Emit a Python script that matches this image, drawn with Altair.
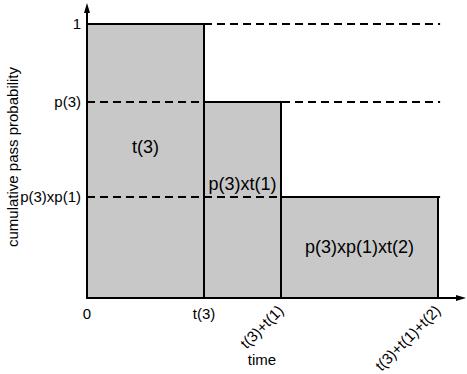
import altair as alt
import pandas as pd

# ---- data ----
durations = [1.17, 0.77, 1.57]            # t(3), t(1), t(2)
levels = [1.0, 0.715, 0.369]              # 1, p(3), p(3)xp(1)
rect_labels = ["t(3)", "p(3)xt(1)", "p(3)xp(1)xt(2)"]
rect_label_y = [0.547, 0.412, 0.182]
y_tick_labels = ["1", "p(3)", "p(3)xp(1)"]
x_tick_labels = ["0", "t(3)", "t(3)+t(1)", "t(3)+t(1)+t(2)"]

W, H = 378, 295
X_MAX = 3.78
Y_MAX = 295 / 274
FONT = "Liberation Sans"

starts = [0.0, durations[0], durations[0] + durations[1]]
ends = [s + d for s, d in zip(starts, durations)]
total = ends[-1]

rects = pd.DataFrame({"x": starts, "x2": ends, "y": [0, 0, 0], "y2": levels,
                      "label": rect_labels, "ly": rect_label_y,
                      "lx": [(a + b) / 2 for a, b in zip(starts, ends)]})
dash_df = pd.DataFrame({"x": [durations[0], 0.0, 0.0], "x2": [total * 1.006] * 3, "y": levels})
ytick_df = pd.DataFrame({"y": levels, "label": y_tick_labels})
xpos = [0.0] + ends
xtick_df = pd.DataFrame({"x": xpos, "label": x_tick_labels})

xs = alt.Scale(domain=[0, X_MAX], nice=False, zero=False)
ys = alt.Scale(domain=[0, Y_MAX], nice=False, zero=False)

base = alt.Chart(rects)

rect_layer = base.mark_rect(fill="#c8c8c8", stroke="black", strokeWidth=2).encode(
    x=alt.X("x:Q", scale=xs, axis=None),
    x2="x2:Q",
    y=alt.Y("y:Q", scale=ys, axis=None),
    y2="y2:Q",
)

rect_text = base.mark_text(font=FONT, fontSize=18, color="black").encode(
    x=alt.X("lx:Q", scale=xs, axis=None),
    y=alt.Y("ly:Q", scale=ys, axis=None),
    text="label:N",
)

dashes = alt.Chart(dash_df).mark_rule(color="black", strokeWidth=2, strokeDash=[8, 5]).encode(
    x=alt.X("x:Q", scale=xs, axis=None),
    x2="x2:Q",
    y=alt.Y("y:Q", scale=ys, axis=None),
)

y_axis = alt.Chart(rects).mark_rule(color="black", strokeWidth=2).encode(
    x=alt.value(0), y=alt.value(H), y2=alt.value(4)
)
x_axis = alt.Chart(rects).mark_rule(color="black", strokeWidth=2).encode(
    x=alt.value(0), x2=alt.value(372), y=alt.value(H)
)
y_arrow = alt.Chart(pd.DataFrame({"a": [0]})).mark_point(
    shape="M0,-1L0.6,1L-0.6,1Z", filled=True, color="black", opacity=1, size=100
).encode(x=alt.value(0), y=alt.value(5))
x_arrow = alt.Chart(pd.DataFrame({"a": [0]})).mark_point(
    shape="M1,0L-1,-0.6L-1,0.6Z", filled=True, color="black", opacity=1, size=100
).encode(x=alt.value(374), y=alt.value(H))

ytick_text = alt.Chart(ytick_df).mark_text(
    font=FONT, fontSize=15, align="right", baseline="middle", color="black"
).encode(x=alt.value(-6), y=alt.Y("y:Q", scale=ys, axis=None), text="label:N")

xtick_flat = alt.Chart(xtick_df.iloc[:2]).mark_text(
    font=FONT, fontSize=15, align="center", baseline="top", color="black"
).encode(x=alt.X("x:Q", scale=xs, axis=None), y=alt.value(H + 9), text="label:N")

xtick_rot = alt.Chart(xtick_df.iloc[2:]).mark_text(
    font=FONT, fontSize=15, align="right", baseline="middle", angle=315, color="black"
).encode(x=alt.X("x:Q", scale=xs, axis=None), y=alt.value(H + 10), text="label:N")

y_title = alt.Chart(pd.DataFrame({"t": ["cumulative pass probability"]})).mark_text(
    font=FONT, fontSize=15, angle=270, align="center", baseline="middle", color="black"
).encode(x=alt.value(-74), y=alt.value(154), text="t:N")

x_title = alt.Chart(pd.DataFrame({"t": ["time"]})).mark_text(
    font=FONT, fontSize=15, align="center", baseline="middle", color="black"
).encode(x=alt.value(175), y=alt.value(H + 62), text="t:N")

chart = alt.layer(
    rect_layer, dashes, rect_text, y_axis, x_axis, y_arrow, x_arrow,
    ytick_text, xtick_flat, xtick_rot, y_title, x_title
).properties(
    width=W, height=H,
    autosize=alt.AutoSizeParams(type="none"),
    padding={"left": 87, "top": 3, "right": 2, "bottom": 76},
).configure_view(stroke=None)

chart.save("out.html", embed_options={"renderer": "svg", "actions": False})
